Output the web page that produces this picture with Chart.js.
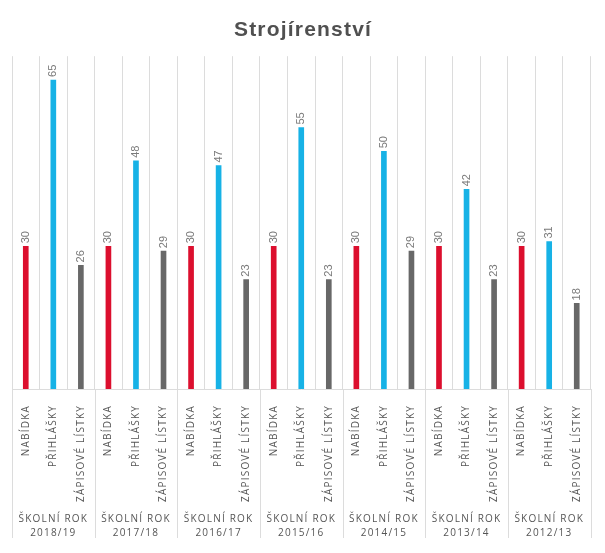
<!DOCTYPE html>
<html>
<head>
<meta charset="utf-8">
<script src="https://cdn.jsdelivr.net/npm/chart.js@4.4.0/dist/chart.umd.min.js"></script>
<style>
  html, body { margin: 0; background: #fff; }
  #wrap { width: 605px; height: 553px; }
</style>
</head>
<body>
<div id="wrap"><canvas id="chart"></canvas></div>
<script>
// Chart data
const chartTitle = 'Strojírenství';
const years = ['2018/19', '2017/18', '2016/17', '2015/16', '2014/15', '2013/14', '2012/13'];
const barNames = ['NABÍDKA', 'PŘIHLÁŠKY', 'ZÁPISOVÉ LÍSTKY'];
const nabidka = [30, 30, 30, 30, 30, 30, 30];
const prihlasky = [65, 48, 47, 55, 50, 42, 31];
const zapisoveListky = [26, 29, 23, 23, 29, 23, 18];
const barColors = ['#dc0f2e', '#17b2e6', '#686868'];

// Flatten the three series into one bar per slot (21 slots)
const labels = [];
const values = [];
const colors = [];
years.forEach((year, i) => {
  [nabidka[i], prihlasky[i], zapisoveListky[i]].forEach((v, k) => {
    labels.push(barNames[k]);
    values.push(v);
    colors.push(barColors[k]);
  });
});
const groupLabels = years.map(y => ['ŠKOLNÍ ROK', y]);

const gridColor = '#dcdcdc';

// Canvas has no CSS letter-spacing, so set it on the context before measuring and drawing
const spacing = {
  id: 'spacing',
  beforeLayout(chart) { chart.ctx.letterSpacing = '1.2px'; },
  beforeDraw(chart) { chart.ctx.letterSpacing = '1.2px'; },
};

// Group separators continue below the baseline through the labels
const groupLines = {
  id: 'groupLines',
  afterDraw(chart) {
    const { ctx, chartArea, scales: { x } } = chart;
    const step = x.getPixelForValue(1) - x.getPixelForValue(0);
    ctx.save();
    ctx.strokeStyle = gridColor;
    ctx.lineWidth = 1;
    for (let g = 0; g <= years.length; g++) {
      const px = Math.round(x.getPixelForValue(g * barNames.length) - step / 2) + 0.5;
      ctx.beginPath();
      ctx.moveTo(px, chartArea.bottom);
      ctx.lineTo(px, chartArea.bottom + 149);
      ctx.stroke();
    }
    ctx.restore();
  },
};

// Rotated value labels above each bar
const valueLabels = {
  id: 'valueLabels',
  afterDatasetsDraw(chart) {
    const { ctx } = chart;
    const meta = chart.getDatasetMeta(0);
    ctx.save();
    ctx.letterSpacing = '0px';
    ctx.font = '11px "Liberation Sans", Arial, sans-serif';
    ctx.fillStyle = '#7a7a7a';
    ctx.textAlign = 'left';
    ctx.textBaseline = 'middle';
    meta.data.forEach((bar, i) => {
      ctx.save();
      ctx.translate(bar.x, bar.y - 3);
      ctx.rotate(-Math.PI / 2);
      ctx.fillText(String(values[i]), 0, 0);
      ctx.restore();
    });
    ctx.restore();
  },
};

new Chart(document.getElementById('chart'), {
  type: 'bar',
  plugins: [spacing, groupLines, valueLabels],
  data: {
    labels,
    datasets: [{
      data: values,
      backgroundColor: colors,
      barThickness: 5,
      borderWidth: 0,
    }],
  },
  options: {
    responsive: true,
    maintainAspectRatio: false,
    animation: false,
    layout: { padding: { left: 12, right: 11, top: 0, bottom: 13 } },
    plugins: {
      legend: { display: false },
      tooltip: { enabled: false },
      title: {
        display: true,
        text: chartTitle,
        color: '#505050',
        font: { family: '"Liberation Sans", Arial, sans-serif', size: 21, weight: 'bold' },
        padding: { top: 18, bottom: 13 },
      },
    },
    scales: {
      x: {
        offset: true,
        grid: { color: gridColor, drawTicks: false, offset: true },
        border: { color: gridColor },
        afterFit(scale) { scale.height = 116; },
        ticks: {
          autoSkip: false,
          minRotation: 90,
          maxRotation: 90,
          padding: 16,
          color: '#555555',
          font: { family: '"Open Sans", sans-serif', size: 10 },
        },
      },
      x2: {
        type: 'category',
        labels: groupLabels,
        position: 'bottom',
        offset: true,
        grid: { display: false, drawTicks: false },
        border: { display: false },
        afterFit(scale) { scale.height = 35; },
        ticks: {
          autoSkip: false,
          maxRotation: 0,
          padding: 7,
          color: '#555555',
          font: { family: '"Open Sans", sans-serif', size: 10, lineHeight: 1.4 },
        },
      },
      y: { display: false, min: 0, max: 70 },
    },
  },
});
</script>
</body>
</html>
